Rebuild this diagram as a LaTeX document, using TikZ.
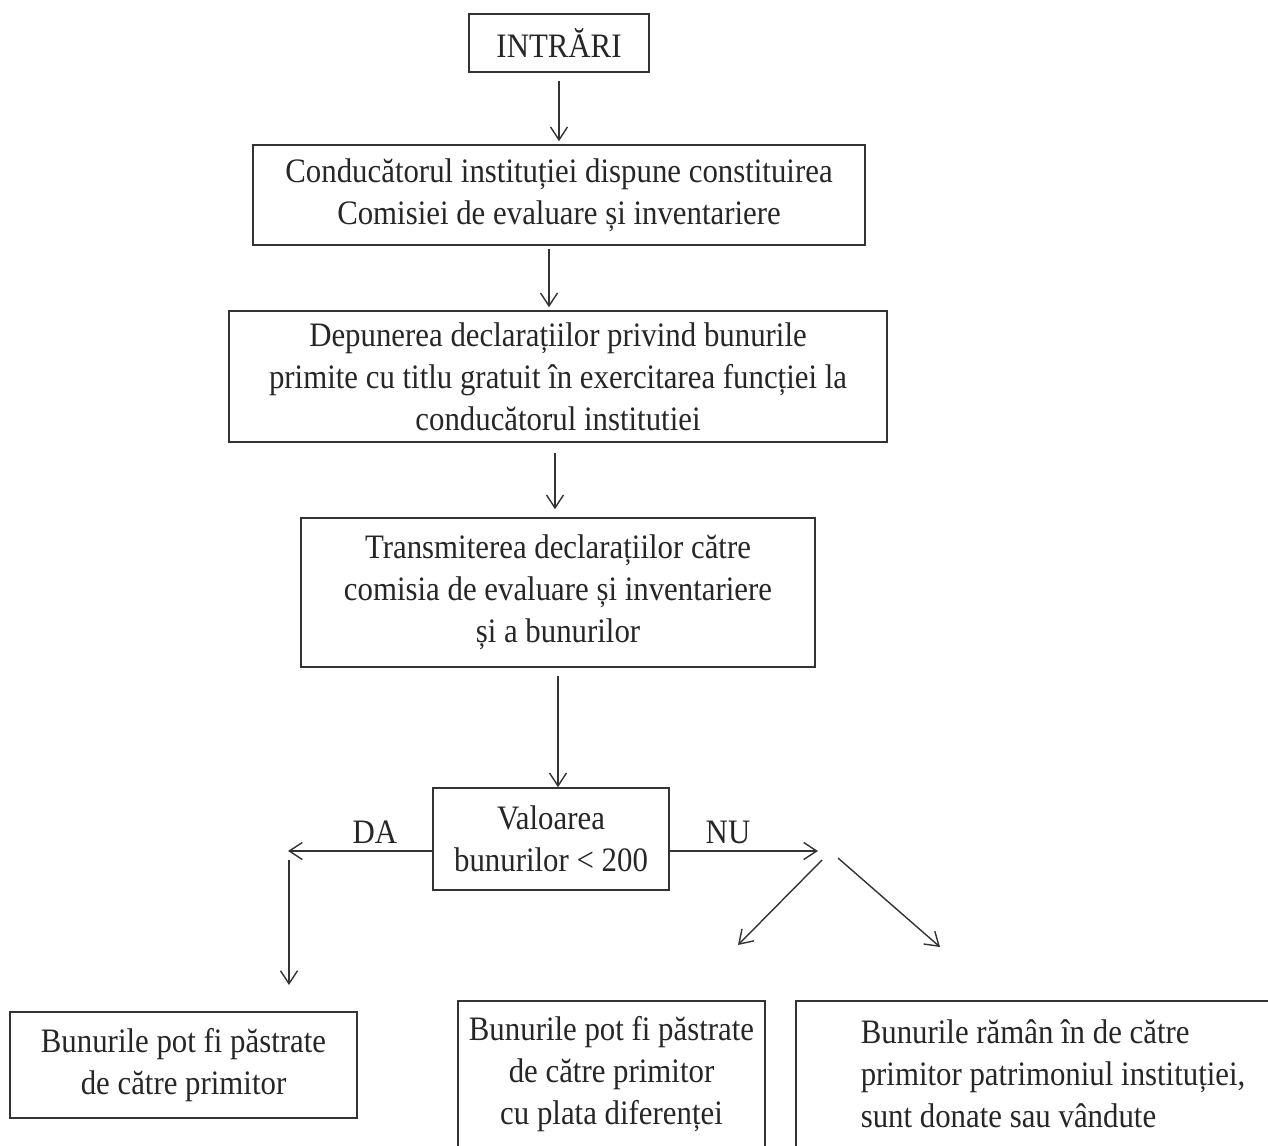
\documentclass[tikz,border=0pt]{standalone}
\usepackage{fontspec}
\setmainfont{Liberation Serif}[FakeStretch=0.9]
\usetikzlibrary{arrows.meta, positioning}

\begin{document}
\begin{tikzpicture}[
    x=0.02cm, y=-0.02cm,
    every node/.style={font=\fontsize{19.5}{24}\selectfont, text=black!85},
    box/.style={draw=black!80, line width=0.9pt, align=center, inner sep=0pt},
    arr/.style={-{Straight Barb[length=0.26cm, width=0.34cm]}},
    every edge/.append style={draw=black!80, line width=0.8pt}
]
   \clip (0,0) rectangle (1268,1146);
   \useasboundingbox (0,0) rectangle (1268,1146);

   % Boxes
   \node[box, minimum width=3.6cm, minimum height=1.16cm] (in) at (559,43) {INTRĂRI};
   \node[box, minimum width=12.24cm, minimum height=2cm] (b1) at (559,195)
      {Conducătorul instituției dispune constituirea\\Comisiei de evaluare și inventariere};
   \node[box, minimum width=13.16cm, minimum height=2.62cm] (b2) at (558,376.5)
      {Depunerea declarațiilor privind bunurile\\primite cu titlu gratuit în exercitarea funcției la\\conducătorul institutiei};
   \node[box, minimum width=10.28cm, minimum height=2.98cm] (b3) at (558,592.5)
      {Transmiterea declarațiilor către\\comisia de evaluare și inventariere\\și a bunurilor};
   \node[box, minimum width=4.72cm, minimum height=2.04cm] (dec) at (551,839)
      {Valoarea\\bunurilor < 200};
   \node[box, minimum width=6.94cm, minimum height=2.12cm] (yes) at (183.5,1065)
      {Bunurile pot fi păstrate\\de către primitor};
   \node[box, minimum width=6.14cm, minimum height=2.92cm] (plata) at (611.5,1074)
      {Bunurile pot fi păstrate\\de către primitor\\cu plata diferenței};
   \node[box, anchor=west, align=flush left, inner xsep=1.3cm, text width=8cm, minimum height=2.92cm] (inst) at (795,1074)
      {Bunurile rămân în de către\\primitor patrimoniul instituției,\\sunt donate sau vândute};

   % Labels
   \node (da) at (375,832) {DA};
   \node (nu) at (728,832) {NU};

   % Free ends
   \coordinate (daend) at (288,851);
   \coordinate (dadown) at (289,860);
   \coordinate (dabot) at (289,985);
   \coordinate (nuend) at (818,851);
   \coordinate (nuA) at (822,860);
   \coordinate (nuAend) at (738,945);
   \coordinate (nuB) at (838,858);
   \coordinate (nuBend) at (940,947);

   % Transitions
   \path[arr]
   (in.south) edge [shorten <=0.16cm, shorten >=0.06cm] (in.south |- b1.north)
   ([xshift=-0.2cm]b1.south) edge [shorten <=0.06cm, shorten >=0.06cm] ([xshift=-0.2cm]b1.south |- b2.north)
   ([xshift=-0.06cm]b2.south) edge [shorten <=0.2cm, shorten >=0.16cm] ([xshift=-0.06cm]b2.south |- b3.north)
   (b3.south) edge [shorten <=0.16cm] (b3.south |- dec.north)
   (dec.west |- daend) edge (daend)
   (dadown) edge (dabot)
   (dec.east |- nuend) edge (nuend)
   (nuA) edge (nuAend)
   (nuB) edge (nuBend);

\end{tikzpicture}
\end{document}
